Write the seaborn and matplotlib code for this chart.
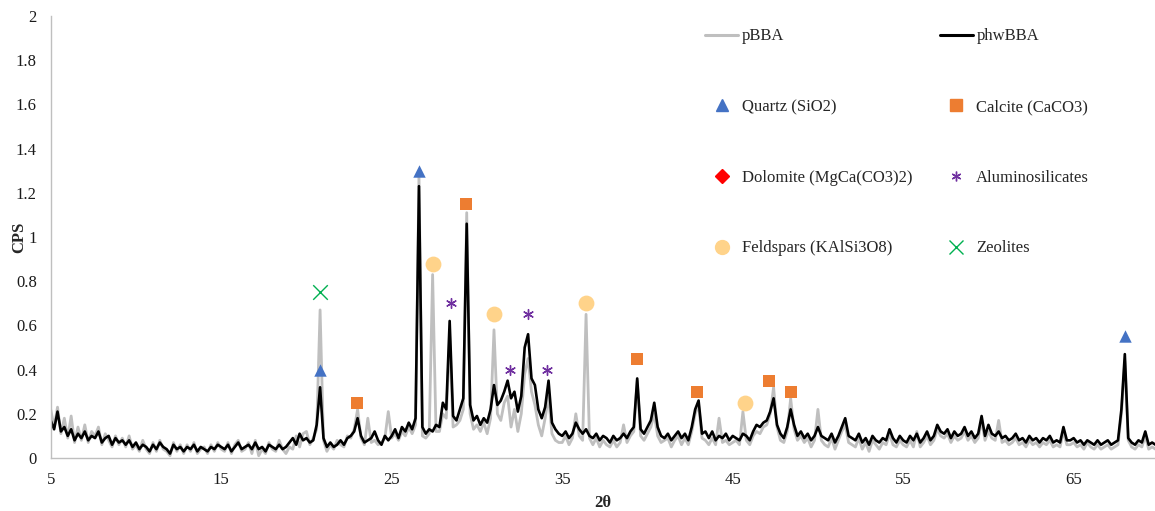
import numpy as np
import pandas as pd
import matplotlib
matplotlib.use("Agg")
import matplotlib.pyplot as plt
from matplotlib.lines import Line2D
import seaborn as sns

# ---------------- data ----------------
two_theta_start = 5.0
two_theta_step = 0.2

# pBBA (grey), CPS x 100, one row per 5 degrees (5.0 ... 9.8, 10.0 ... 14.8, ...)
pbba_cps100 = [
    22, 14, 23, 11, 18, 9, 19, 7, 14, 8, 15, 7, 12, 10, 14, 6, 11, 8, 5, 10, 6, 9, 5, 10, 4,
    6, 3, 8, 4, 2, 7, 3, 8, 4, 3, 1, 7, 3, 6, 2, 6, 3, 7, 2, 4, 5, 2, 6, 3, 7,
    4, 3, 7, 2, 6, 8, 3, 4, 7, 2, 8, 1, 4, 2, 7, 4, 3, 8, 4, 2, 5, 4, 10, 5, 11,
    12, 6, 9, 13, 67, 8, 3, 6, 4, 8, 6, 5, 10, 9, 13, 22, 9, 6, 18, 7, 8, 6, 7, 9, 21,
    9, 11, 8, 12, 10, 14, 11, 15, 128, 10, 9, 11, 83, 12, 12, 20, 18, 55, 14, 15, 17, 22, 111, 20, 13,
    15, 12, 16, 11, 18, 58, 20, 17, 25, 28, 14, 22, 12, 20, 38, 45, 30, 24, 15, 10, 18, 28, 11, 8, 7,
    7, 10, 6, 9, 20, 10, 8, 65, 9, 6, 9, 5, 8, 6, 5, 8, 5, 7, 15, 7, 10, 12, 35, 10, 8,
    11, 14, 20, 10, 7, 8, 9, 5, 8, 10, 6, 9, 6, 12, 20, 24, 9, 8, 6, 9, 6, 18, 7, 8, 6,
    7, 8, 6, 21, 8, 6, 10, 12, 11, 14, 15, 20, 32, 14, 8, 7, 12, 27, 13, 8, 10, 7, 9, 5, 8,
    22, 8, 6, 5, 9, 4, 8, 12, 15, 7, 6, 5, 9, 4, 7, 3, 8, 6, 4, 7, 6, 11, 6, 5, 8,
    6, 5, 8, 5, 12, 5, 7, 10, 6, 8, 13, 10, 9, 11, 7, 10, 8, 9, 12, 8, 10, 7, 9, 17, 8,
    12, 9, 8, 17, 7, 8, 6, 7, 9, 6, 7, 5, 8, 6, 7, 5, 7, 6, 8, 5, 6, 5, 12, 6, 6,
    7, 5, 6, 4, 7, 5, 4, 6, 4, 5, 6, 4, 5, 6, 20, 44, 8, 5, 4, 6, 5, 10, 4, 5, 4,
    4,
]

# phwBBA (black), CPS x 100
phwbba_cps100 = [
    17, 13, 21, 12, 14, 10, 13, 8, 11, 9, 12, 8, 10, 9, 12, 7, 9, 10, 6, 9, 7, 8, 6, 8, 5,
    7, 4, 6, 5, 3, 6, 4, 7, 5, 4, 2, 6, 4, 5, 3, 5, 4, 6, 3, 5, 4, 3, 5, 4, 6,
    5, 4, 6, 3, 5, 7, 4, 5, 6, 4, 7, 4, 5, 3, 6, 5, 4, 6, 4, 5, 7, 9, 6, 11, 8,
    9, 7, 8, 15, 32, 9, 5, 7, 5, 6, 8, 6, 9, 10, 12, 18, 10, 7, 8, 9, 12, 8, 6, 10, 8,
    10, 13, 9, 14, 12, 16, 13, 18, 123, 14, 11, 13, 12, 15, 14, 25, 22, 62, 19, 17, 22, 27, 106, 24, 17,
    19, 15, 18, 16, 22, 33, 24, 26, 30, 35, 27, 30, 21, 28, 50, 56, 36, 33, 22, 18, 23, 35, 16, 13, 11,
    10, 12, 9, 11, 16, 13, 11, 13, 10, 9, 11, 8, 10, 9, 7, 10, 8, 9, 11, 9, 12, 14, 36, 13, 11,
    14, 17, 25, 14, 10, 9, 11, 8, 10, 12, 9, 11, 8, 14, 22, 26, 11, 12, 9, 12, 8, 10, 9, 11, 8,
    10, 9, 8, 11, 10, 8, 12, 15, 14, 16, 17, 21, 27, 15, 11, 9, 14, 22, 15, 10, 12, 9, 11, 8, 10,
    14, 10, 9, 8, 11, 7, 10, 14, 18, 10, 9, 8, 11, 7, 9, 6, 10, 8, 7, 9, 8, 13, 9, 7, 10,
    8, 7, 10, 8, 11, 7, 9, 12, 8, 10, 15, 12, 11, 13, 9, 12, 10, 11, 14, 10, 12, 9, 11, 19, 10,
    15, 11, 10, 12, 9, 10, 8, 9, 11, 8, 9, 7, 10, 8, 9, 7, 9, 8, 10, 7, 8, 7, 14, 8, 8,
    9, 7, 8, 6, 8, 7, 6, 8, 6, 7, 8, 6, 7, 8, 22, 47, 9, 7, 6, 8, 7, 12, 6, 7, 6,
    6,
]

# phase identification markers
quartz_x = [20.8, 26.6, 68.0]
quartz_y = [0.40, 1.30, 0.55]
calcite_x = [22.95, 29.35, 39.4, 42.9, 47.15, 48.4]
calcite_y = [0.25, 1.15, 0.45, 0.30, 0.35, 0.30]
dolomite_x = []
dolomite_y = []
alumino_x = [28.45, 31.95, 33.0, 34.1]
alumino_y = [0.70, 0.40, 0.65, 0.40]
feldspar_x = [27.4, 31.0, 36.4, 45.7]
feldspar_y = [0.88, 0.65, 0.70, 0.25]
zeolite_x = [20.8]
zeolite_y = [0.75]

# ---------------- style ----------------
sns.set_theme(style="white")
plt.rcParams["font.family"] = ["Liberation Serif", "DejaVu Serif"]
plt.rcParams["mathtext.fontset"] = "stix"

W, H = 1155, 511
fig = plt.figure(figsize=(W / 100, H / 100), dpi=100)
ax = fig.add_axes([50.7 / W, (H - 458) / H, (W - 50.7) / W, (458 - 16) / H])

n = len(phwbba_cps100)
two_theta = two_theta_start + two_theta_step * np.arange(n)
df = pd.DataFrame({
    "two_theta": two_theta,
    "pBBA": np.array(pbba_cps100[:n]) / 100.0,
    "phwBBA": np.array(phwbba_cps100) / 100.0,
})

GREY = "#BFBFBF"
sns.lineplot(data=df, x="two_theta", y="pBBA", ax=ax, color=GREY, linewidth=2.0, estimator=None)
sns.lineplot(data=df, x="two_theta", y="phwBBA", ax=ax, color="black", linewidth=1.9, estimator=None)

c_quartz = "#4472C4"
c_calcite = "#ED7D31"
c_dolo = "#FF0000"
c_alu = "#7030A0"
c_feld = "#FFD38A"
c_zeo = "#00B050"
asterisk = (6, 2, 0)

sns.scatterplot(x=quartz_x, y=quartz_y, ax=ax, marker="^", s=80, color=c_quartz, linewidth=0, zorder=5)
sns.scatterplot(x=calcite_x, y=calcite_y, ax=ax, marker="s", s=64, color=c_calcite, linewidth=0, zorder=5)
sns.scatterplot(x=feldspar_x, y=feldspar_y, ax=ax, marker="o", s=130, color=c_feld, linewidth=0, zorder=5)
ax.scatter(alumino_x, alumino_y, marker=asterisk, s=50, color=c_alu, linewidths=1.0, zorder=5)
ax.scatter(zeolite_x, zeolite_y, marker="x", s=110, color=c_zeo, linewidths=1.0, zorder=5)

ax.set_xlim(5, 69.77)
ax.set_ylim(0, 2)
ax.set_xticks([5, 15, 25, 35, 45, 55, 65])
ax.set_yticks(np.arange(0, 2.01, 0.2))
ax.set_yticklabels(["0", "0.2", "0.4", "0.6", "0.8", "1", "1.2", "1.4", "1.6", "1.8", "2"])
ax.tick_params(axis="both", length=0, labelsize=12, colors="#1a1a1a")
ax.tick_params(axis="y", pad=10)
ax.tick_params(axis="x", pad=10)

for side in ["top", "right"]:
    ax.spines[side].set_visible(False)
for side in ["left", "bottom"]:
    ax.spines[side].set_color("#BFBFBF")
    ax.spines[side].set_linewidth(1.0)

ax.set_xlabel("2θ", fontsize=12, fontweight="bold", va="center", ha="center")
ax.xaxis.set_label_coords(0.5, (458 - 503) / 442)
ax.set_ylabel("CPS", fontsize=12, fontweight="bold", va="center", ha="center")
ax.yaxis.set_label_coords((19 - 50.7) / (W - 50.7), 0.5)

# legend: column-wise order so rows read pBBA/phwBBA, Quartz/Calcite, ...
h_p = Line2D([], [], color=GREY, linewidth=2.2)
h_ph = Line2D([], [], color="black", linewidth=2.2)
h_q = Line2D([], [], marker="^", linestyle="None", color=c_quartz, markersize=8)
h_c = Line2D([], [], marker="s", linestyle="None", color=c_calcite, markersize=8)
h_d = Line2D([], [], marker="D", linestyle="None", color=c_dolo, markersize=7)
h_a = Line2D([], [], marker=asterisk, linestyle="None", color=c_alu, markersize=7, markeredgewidth=1.0)
h_f = Line2D([], [], marker="o", linestyle="None", color=c_feld, markersize=10)
h_z = Line2D([], [], marker="x", linestyle="None", color=c_zeo, markersize=10, markeredgewidth=1.0)

handles = [h_p, h_q, h_d, h_f, h_ph, h_c, h_a, h_z]
labels = ["pBBA", "Quartz (SiO2)", "Dolomite (MgCa(CO3)2)", "Feldspars (KAlSi3O8)",
          "phwBBA", "Calcite (CaCO3)", "Aluminosilicates", "Zeolites"]
leg = fig.legend(handles, labels, ncol=2, frameon=False, loc="upper left",
                 bbox_to_anchor=(705 / W, 1 - 28.5 / H), fontsize=12,
                 handlelength=2.0, handletextpad=0.2, columnspacing=1.65,
                 labelspacing=3.28, borderpad=0, borderaxespad=0)

fig.savefig("out.png", dpi=100)
